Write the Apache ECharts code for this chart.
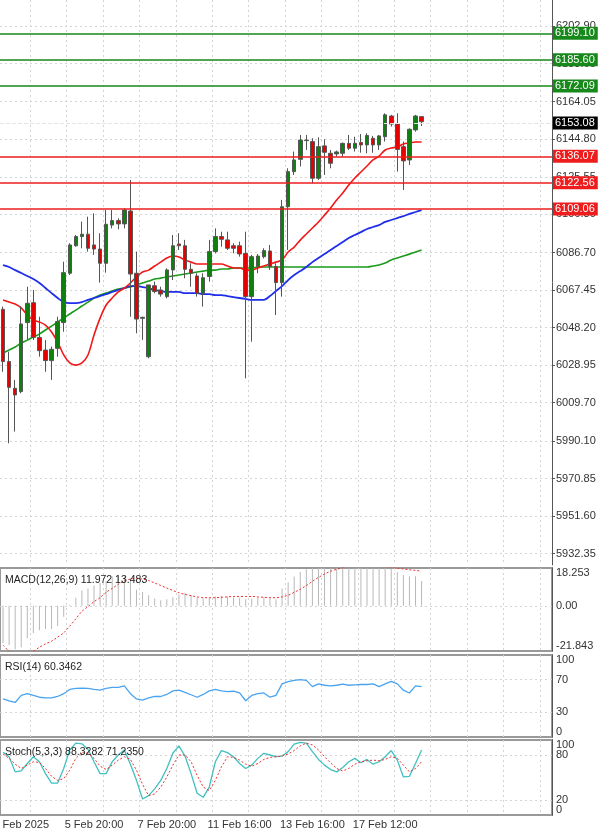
<!DOCTYPE html>
<html><head><meta charset="utf-8">
<script src="https://cdn.jsdelivr.net/npm/echarts@6/dist/echarts.min.js"></script>
<style>html,body{margin:0;padding:0;background:#fff}#c{width:600px;height:830px}</style>
</head><body><div id="c"></div>
<script>
// [open, close, low, high]
const candles = [
[6057.6,6030.8,6025.6,6059.0],[6030.8,6017.6,5988.9,6035.9],[6017.1,6013.7,5994.9,6021.4],[6015.4,6050.1,6014.5,6059.0],
[6050.8,6060.7,6041.9,6069.2],[6061.0,6043.2,6041.9,6067.5],[6043.2,6036.4,6033.3,6053.8],[6036.7,6031.3,6025.6,6041.9],
[6031.3,6037.1,6021.4,6038.5],[6037.6,6051.3,6033.3,6053.8],[6050.8,6076.4,6046.1,6082.0],[6076.1,6090.6,6075.2,6091.5],
[6090.2,6094.9,6089.7,6095.7],[6094.9,6096.1,6088.9,6102.6],[6096.1,6088.9,6087.2,6105.1],[6090.6,6088.5,6085.5,6106.8],
[6088.5,6081.2,6071.3,6096.6],[6081.2,6101.2,6076.4,6108.5],[6100.8,6103.1,6099.1,6108.5],[6103.1,6101.4,6098.6,6104.3],
[6101.4,6108.5,6099.1,6109.4],[6108.0,6075.7,6053.8,6123.9],[6076.1,6052.6,6045.3,6087.2],[6053.0,6053.5,6041.9,6053.8],
[6033.3,6070.1,6032.5,6070.1],[6069.7,6066.7,6065.8,6071.8],[6067.5,6065.4,6064.1,6069.2],[6064.1,6077.8,6063.2,6078.6],
[6077.8,6090.2,6072.6,6095.7],[6091.1,6090.2,6088.0,6096.6],[6090.2,6078.1,6073.5,6093.2],[6078.1,6076.1,6069.2,6081.2],
[6074.7,6065.8,6064.1,6076.1],[6065.8,6073.8,6059.0,6076.1],[6074.4,6087.2,6071.8,6093.2],[6087.2,6094.9,6086.3,6099.1],
[6094.9,6093.5,6089.7,6097.4],[6093.2,6088.9,6088.0,6097.4],[6090.2,6088.9,6086.3,6091.5],[6090.2,6086.0,6084.6,6092.3],
[6086.3,6064.1,6022.2,6097.4],[6064.1,6084.6,6041.0,6085.5],[6079.5,6084.9,6076.1,6086.0],[6084.6,6087.7,6083.7,6088.9],
[6087.5,6079.5,6077.8,6090.6],[6079.5,6071.3,6054.7,6081.2],[6071.3,6110.2,6064.1,6113.7],[6110.2,6128.2,6088.0,6129.9],
[6128.2,6134.2,6126.5,6138.5],[6134.5,6144.4,6130.8,6147.0],[6144.1,6144.4,6139.3,6147.0],[6143.6,6124.8,6122.2,6145.3],
[6124.8,6141.0,6123.9,6145.8],[6141.4,6138.1,6126.5,6144.8],[6137.6,6132.5,6129.9,6139.3],[6137.3,6138.3,6135.9,6139.0],
[6137.6,6142.7,6135.9,6143.1],[6142.7,6140.2,6139.3,6147.0],[6140.2,6142.7,6138.5,6146.1],[6143.1,6141.9,6137.9,6147.5],
[6141.9,6146.7,6137.6,6147.9],[6145.3,6141.9,6137.9,6146.5],[6141.9,6146.5,6139.3,6147.0],[6146.1,6157.3,6143.6,6158.1],
[6156.7,6152.6,6151.3,6157.3],[6152.6,6139.6,6128.2,6158.1],[6141.0,6133.7,6118.8,6143.6],[6134.2,6149.9,6131.6,6150.4],
[6149.6,6156.7,6148.7,6157.3],[6156.4,6153.8,6151.6,6156.4]
];
const maRed = [6062.4,6061.3,6060.3,6058.3,6054.7,6052.1,6051.1,6049.5,6046.0,6040.8,6034.2,6030.1,6029.0,6030.1,6034.2,6044.4,6053.1,6059.8,6063.4,6066.5,6068.5,6071.1,6074.2,6076.7,6077.7,6079.8,6081.8,6083.9,6084.9,6084.4,6082.9,6081.8,6080.8,6080.8,6080.8,6080.8,6080.8,6079.8,6078.8,6078.8,6077.7,6077.7,6078.8,6079.8,6080.8,6081.8,6082.9,6087.0,6089.5,6093.1,6096.2,6099.3,6102.4,6105.9,6109.5,6113.6,6117.2,6121.3,6124.9,6128.0,6131.1,6134.2,6136.2,6139.3,6140.3,6140.8,6142.4,6142.9,6143.4,6143.4];
const maBlue = [6080.3,6079.3,6077.7,6076.2,6074.7,6073.1,6071.1,6068.5,6065.9,6063.4,6061.3,6060.8,6060.8,6061.3,6062.4,6063.4,6064.4,6065.4,6066.5,6067.5,6068.5,6069.5,6069.5,6069.0,6068.5,6067.5,6067.0,6066.5,6066.5,6066.5,6065.9,6065.9,6065.9,6065.4,6065.4,6064.9,6064.9,6064.4,6063.9,6063.4,6062.9,6062.4,6062.4,6062.4,6064.4,6067.0,6069.5,6072.6,6075.2,6077.2,6079.3,6081.8,6083.9,6085.9,6088.0,6090.1,6092.1,6094.2,6095.7,6097.2,6098.8,6099.8,6100.8,6102.4,6103.4,6104.4,6105.4,6106.5,6107.5,6108.5];
const maGreen = [6035.2,6036.7,6038.3,6040.3,6041.8,6043.4,6044.9,6047.0,6049.0,6051.1,6053.1,6055.2,6057.2,6059.3,6061.3,6063.4,6064.9,6065.9,6067.0,6068.0,6068.5,6069.0,6070.1,6071.1,6072.1,6073.1,6073.6,6074.2,6074.7,6075.2,6075.7,6076.2,6076.7,6077.2,6077.7,6077.7,6078.3,6078.3,6078.8,6078.8,6078.8,6078.8,6079.3,6079.3,6079.3,6079.3,6079.3,6079.3,6079.3,6079.3,6079.3,6079.3,6079.3,6079.3,6079.3,6079.3,6079.3,6079.3,6079.3,6079.3,6079.3,6079.8,6080.3,6081.3,6082.9,6083.9,6084.9,6085.9,6087.0,6088.0];
const macdHist = [-18.0,-19.0,-21.0,-20.0,-15.7,-13.1,-11.8,-11.2,-11.2,-9.8,-5.3,0.5,3.9,7.4,8.4,9.8,11.0,11.8,14.1,14.5,14.1,13.3,7.8,6.7,5.1,3.5,2.7,3.1,4.1,5.5,6.3,5.1,3.9,3.5,3.9,4.5,4.7,4.5,4.1,3.9,3.1,3.5,3.9,4.1,3.7,3.1,8.4,11.4,14.1,16.3,17.6,18.2,18.8,19.2,19.2,19.2,19.2,19.2,19.2,19.2,19.0,18.8,18.8,18.4,17.8,16.3,14.9,14.3,14.3,12.0];
const macdSignal = [-19.0,-22.0,-24.3,-24.3,-23.5,-22.0,-20.0,-18.4,-17.1,-15.1,-13.1,-9.8,-6.3,-2.7,-0.4,2.0,3.9,6.5,8.4,10.4,12.0,12.9,13.3,12.9,12.2,11.0,9.8,8.6,7.4,6.3,5.5,4.9,4.3,3.9,3.9,3.9,4.1,4.3,4.5,4.5,4.5,4.5,4.3,4.1,3.9,3.9,4.3,5.1,6.5,8.0,9.8,11.8,13.7,15.3,16.7,17.6,18.4,19.0,19.2,19.4,19.4,19.2,19.0,18.8,18.6,18.2,17.8,17.4,17.1,16.7];
const rsi = [46.4,44.2,42.1,50.7,52.8,50.7,48.5,47.6,47.6,49.4,52.8,58.0,59.2,59.7,59.2,58.0,57.1,59.2,60.5,60.5,62.3,52.8,46.4,45.1,47.6,49.4,49.4,51.9,56.2,57.1,54.5,51.5,48.5,51.9,56.2,58.0,56.2,55.4,55.8,53.7,44.2,50.7,52.8,53.7,48.5,50.7,64.8,67.4,69.1,70.0,69.1,61.4,64.8,63.1,62.3,63.1,64.4,63.1,63.6,64.0,64.0,64.8,61.4,64.8,67.9,64.8,57.1,53.7,62.3,61.4];
const stochK = [83.6,77.7,57.5,58.8,68.7,77.7,71.0,55.2,42.6,42.6,62.0,86.8,95.8,94.9,87.7,71.0,55.2,55.2,71.0,80.0,86.8,67.8,46.2,21.4,25.9,34.9,46.2,62.0,82.3,92.2,78.6,55.2,29.0,23.6,37.2,71.0,85.9,83.2,77.7,68.7,62.0,66.5,75.5,82.3,80.0,77.7,78.6,84.5,94.4,96.7,95.8,84.5,74.1,66.5,60.6,57.5,63.3,71.0,75.5,69.6,74.1,67.8,71.0,77.7,85.9,73.2,50.7,51.6,68.7,86.8];
const stochD = [81.4,75.5,67.8,62.0,66.5,71.0,70.1,62.0,51.6,46.2,48.4,59.7,75.5,83.2,82.3,75.5,65.1,60.6,66.5,73.2,77.7,74.1,59.7,40.8,25.9,28.1,37.2,50.7,66.5,80.0,80.0,71.0,52.9,37.2,32.6,46.2,64.2,77.7,76.8,73.2,67.8,65.1,68.7,74.1,76.8,77.7,78.6,81.4,85.9,92.2,95.8,93.5,86.8,77.7,69.6,62.0,58.8,62.0,67.8,71.0,72.3,73.2,72.3,74.1,77.7,75.5,66.5,57.5,62.0,71.0];
const priceTicks = [6202.90,6183.65,6164.05,6144.80,6125.55,6106.30,6086.70,6067.45,6048.20,6028.95,6009.70,5990.10,5970.85,5951.60,5932.35];
const greenLevels = [6199.10,6185.60,6172.09];
const redLevels = [6136.07,6122.56,6109.06];
const lastPrice = 6153.08;
const xLabelIdx = [3,15,27,39,51,63];
const xLabelText = ['4 Feb 2025','5 Feb 20:00','7 Feb 20:00','11 Feb 16:00','13 Feb 16:00','17 Feb 12:00'];
const macdTicks = [18.253,0,-21.843];
const rsiTicks = [100,70,30,0];
const stochTicks = [80,20];
const stochEdgeTicks = [100,0];
const titles = ['MACD(12,26,9) 11.972 13.483','RSI(14) 60.3462','Stoch(5,3,3) 88.3282 71.2350'];

const NSLOT = 91;
const cats = Array.from({length:NSLOT},(_,i)=>String(i));
const F = 'Liberation Sans, Arial, sans-serif';
const txt = '#333';
const gb = {left:0,right:48,outerBoundsMode:'none',containLabel:false};
const grids = [
  Object.assign({top:0,height:565},gb),
  Object.assign({top:568,height:83,show:true,borderColor:'#999',borderWidth:2},gb),
  Object.assign({top:655,height:82,show:true,borderColor:'#999',borderWidth:2},gb),
  Object.assign({top:740,height:75,show:true,borderColor:'#999',borderWidth:2},gb)
];
const xAxes = [], yAxes = [];
for(let g=0; g<4; g++){
  xAxes.push({type:'category',gridIndex:g,data:cats,boundaryGap:true,
    axisLine:{show:false},axisTick:{show:false},
    splitLine:{show:true,interval:(i)=>i%6===5,lineStyle:{color:'#d4d4d4',type:[2,3]}},
    axisLabel:{show:g===3,interval:0,fontFamily:F,fontSize:11,color:txt,margin:4,
      formatter:(v,i)=>{const k=xLabelIdx.indexOf(i);return k>=0?xLabelText[k]:'';}}});
}
const edgeRich = {top:{padding:[10,0,0,0],fontFamily:F,fontSize:11,color:txt},
                  bot:{padding:[0,0,10,0],fontFamily:F,fontSize:11,color:txt},
                  mid:{fontFamily:F,fontSize:11,color:txt}};
yAxes.push({type:'value',gridIndex:0,position:'right',min:5926.5,max:6216.2,scale:true,
  axisLine:{show:true,onZero:false,lineStyle:{color:'#555'}},
  axisTick:{show:true,length:3,customValues:priceTicks,lineStyle:{color:'#555'}},
  axisLabel:{customValues:priceTicks,fontFamily:F,fontSize:11,color:txt,margin:4,hideOverlap:false,formatter:v=>v.toFixed(2)},
  splitLine:{show:true,lineStyle:{color:'#d4d4d4',type:[2,3]}}});
function oscAxis(g,min,max,labels,grid,fmt,split){
  return {type:'value',gridIndex:g,position:'right',min:min,max:max,
    axisLine:{show:true,onZero:false,lineStyle:{color:'#555'}},
    axisTick:{show:false,customValues:grid},
    axisLabel:{customValues:labels,margin:4,hideOverlap:false,showMinLabel:true,showMaxLabel:true,
      formatter:v=>{const s=fmt(v); if(Math.abs(v-max)<1e-6) return '{top|'+s+'}'; if(Math.abs(v-min)<1e-6) return '{bot|'+s+'}'; return '{mid|'+s+'}';},
      rich:edgeRich},
    splitLine:{show:split!==false,lineStyle:{color:'#d4d4d4',type:[2,3]}}};
}
yAxes.push(oscAxis(1,-21.843,18.253,macdTicks,[0],v=>Math.abs(v)<1e-9?'0.00':String(v)));
yAxes.push(oscAxis(2,0,100,rsiTicks,[70,30],v=>String(v)));
yAxes.push(oscAxis(3,0,100,stochTicks,[80,20],v=>String(v)));
yAxes.push(oscAxis(3,0,100,stochEdgeTicks,[100,0],v=>String(v),false));

function lvl(v,bg){
  return {yAxis:v,lineStyle:{color:bg,width:1.5,type:'solid'},
    label:{show:true,position:'end',distance:1,formatter:v.toFixed(2),backgroundColor:bg,color:'#fff',
      fontFamily:F,fontSize:11,padding:[1,3,1,2]}};
}
const markData = greenLevels.map(v=>lvl(v,'#16891a')).concat(redLevels.map(v=>lvl(v,'#ee1c1c')));
markData.push({yAxis:lastPrice,lineStyle:{color:'#e4e4e4',width:1},
  label:{show:true,position:'end',distance:1,formatter:lastPrice.toFixed(2),backgroundColor:'#000',color:'#fff',
    fontFamily:F,fontSize:11,padding:[1,3,1,2]}});

const option = {
  animation:false, backgroundColor:'#fff',
  title: titles.map((t,i)=>({text:t,left:0,top:[570,657,742][i],
    textStyle:{fontFamily:F,fontSize:10.5,fontWeight:'normal',color:'#222'}})),
  grid:grids, xAxis:xAxes, yAxis:yAxes,
  series:[
    {type:'candlestick',xAxisIndex:0,yAxisIndex:0,data:candles,barWidth:4,
      itemStyle:{color:'#0d800d',color0:'#e80000',borderColor:'#555',borderColor0:'#555',borderWidth:1},
      markLine:{symbol:'none',silent:true,data:markData},z:3},
    {type:'line',xAxisIndex:0,yAxisIndex:0,data:maGreen,showSymbol:false,smooth:0.3,lineStyle:{color:'#1a9a1a',width:1.6}},
    {type:'line',xAxisIndex:0,yAxisIndex:0,data:maBlue,showSymbol:false,smooth:0.3,lineStyle:{color:'#1f2ee8',width:1.8}},
    {type:'line',xAxisIndex:0,yAxisIndex:0,data:maRed,showSymbol:false,smooth:0.3,lineStyle:{color:'#f01818',width:1.6}},
    {type:'bar',xAxisIndex:1,yAxisIndex:1,data:macdHist,barWidth:1,itemStyle:{color:'#b8b8b8'}},
    {type:'line',xAxisIndex:1,yAxisIndex:1,data:macdSignal,showSymbol:false,smooth:0.3,lineStyle:{color:'#f03030',width:1,type:[2,2]}},
    {type:'line',xAxisIndex:2,yAxisIndex:2,data:rsi,showSymbol:false,lineStyle:{color:'#4aa3f0',width:1.3}},
    {type:'line',xAxisIndex:3,yAxisIndex:3,data:stochK,showSymbol:false,lineStyle:{color:'#40c0c0',width:1.3}},
    {type:'line',xAxisIndex:3,yAxisIndex:3,data:stochD,showSymbol:false,lineStyle:{color:'#f03030',width:1,type:[2,2]}}
  ]
};
const chart = echarts.init(document.getElementById('c'),null,{renderer:'canvas'});
chart.setOption(option);
</script></body></html>
